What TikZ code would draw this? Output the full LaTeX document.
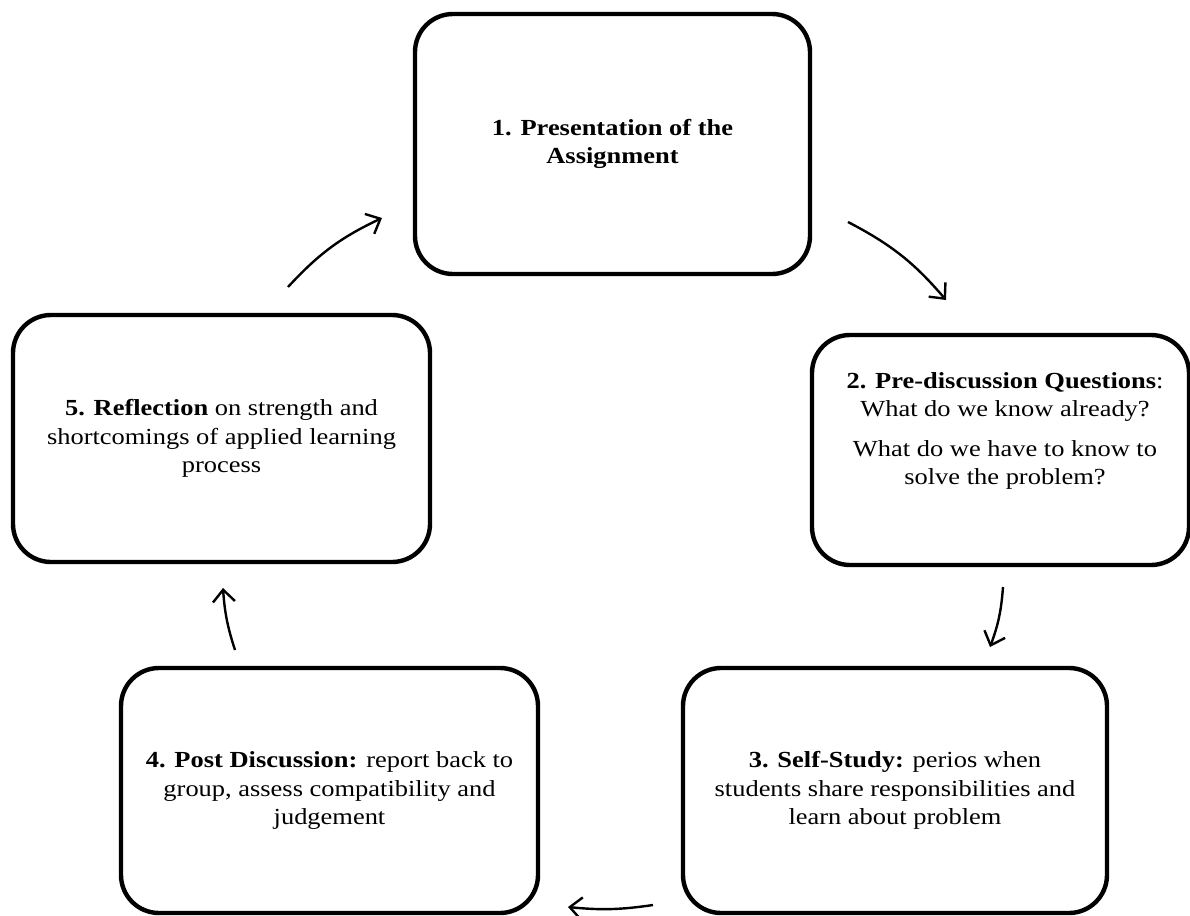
\documentclass[tikz,border=0pt]{standalone}
\usepackage{fontspec}
\setmainfont{Liberation Serif}[FakeStretch=1.15]
\usetikzlibrary{arrows.meta}

\begin{document}
\begin{tikzpicture}[x=0.5pt,y=-0.5pt,
  stage/.style={draw, line width=2.2pt, rounded corners=19pt, inner sep=0pt,
    align=center, font=\fontsize{11.5}{14.25}\selectfont},
  stagetext/.style={align=center, font=\fontsize{11.5}{14.25}\selectfont},
  cyc/.style={line width=1.2pt, -{Straight Barb[length=6pt,width=11pt]}}]
\useasboundingbox (0,0) rectangle (1190,916);
\node[stage, minimum width=197.5pt, minimum height=130pt, font=\fontsize{11.5}{14.25}\selectfont\bfseries] (assign) at (612.5,144) {1. Presentation of the\\ Assignment};
\node[stage, minimum width=188.5pt, minimum height=115pt] (prequest) at (1000.5,450) {};
\node[stagetext] (prequestlbl) at (1005,431) {\textbf{2. Pre-discussion Questions}:\\ What do we know already?\\[5.5pt] What do we have to know to\\ solve the problem?};
\node[stage, minimum width=212pt, minimum height=122.5pt] (selfstudy) at (895,790.5) {\textbf{3. Self-Study:} perios when\\ students share responsibilities and\\ learn about problem};
\node[stage, minimum width=208.5pt, minimum height=122.5pt] (postdisc) at (329.5,790.5) {\textbf{4. Post Discussion:} report back to\\ group, assess compatibility and\\ judgement};
\node[stage, minimum width=208.5pt, minimum height=123.5pt] (reflect) at (221.5,438.5) {\textbf{5. Reflection} on strength and\\ shortcomings of applied learning\\ process};
\coordinate (ra) at (288,287);
\coordinate (rb) at (382,218);
\coordinate (aa) at (848,222);
\coordinate (ab) at (946,300);
\coordinate (pa) at (1003,587);
\coordinate (pb) at (990,647);
\coordinate (sa) at (653,905);
\coordinate (sb) at (568,907);
\coordinate (da) at (235,650);
\coordinate (db) at (223,588);
\draw[cyc] (ra) to[bend left=11] (rb);
\draw[cyc] (aa) to[bend left=11] (ab);
\draw[cyc] (pa) to[bend left=8] (pb);
\draw[cyc] (sa) to[bend left=7] (sb);
\draw[cyc] (da) to[bend left=7] (db);
\end{tikzpicture}
\end{document}
